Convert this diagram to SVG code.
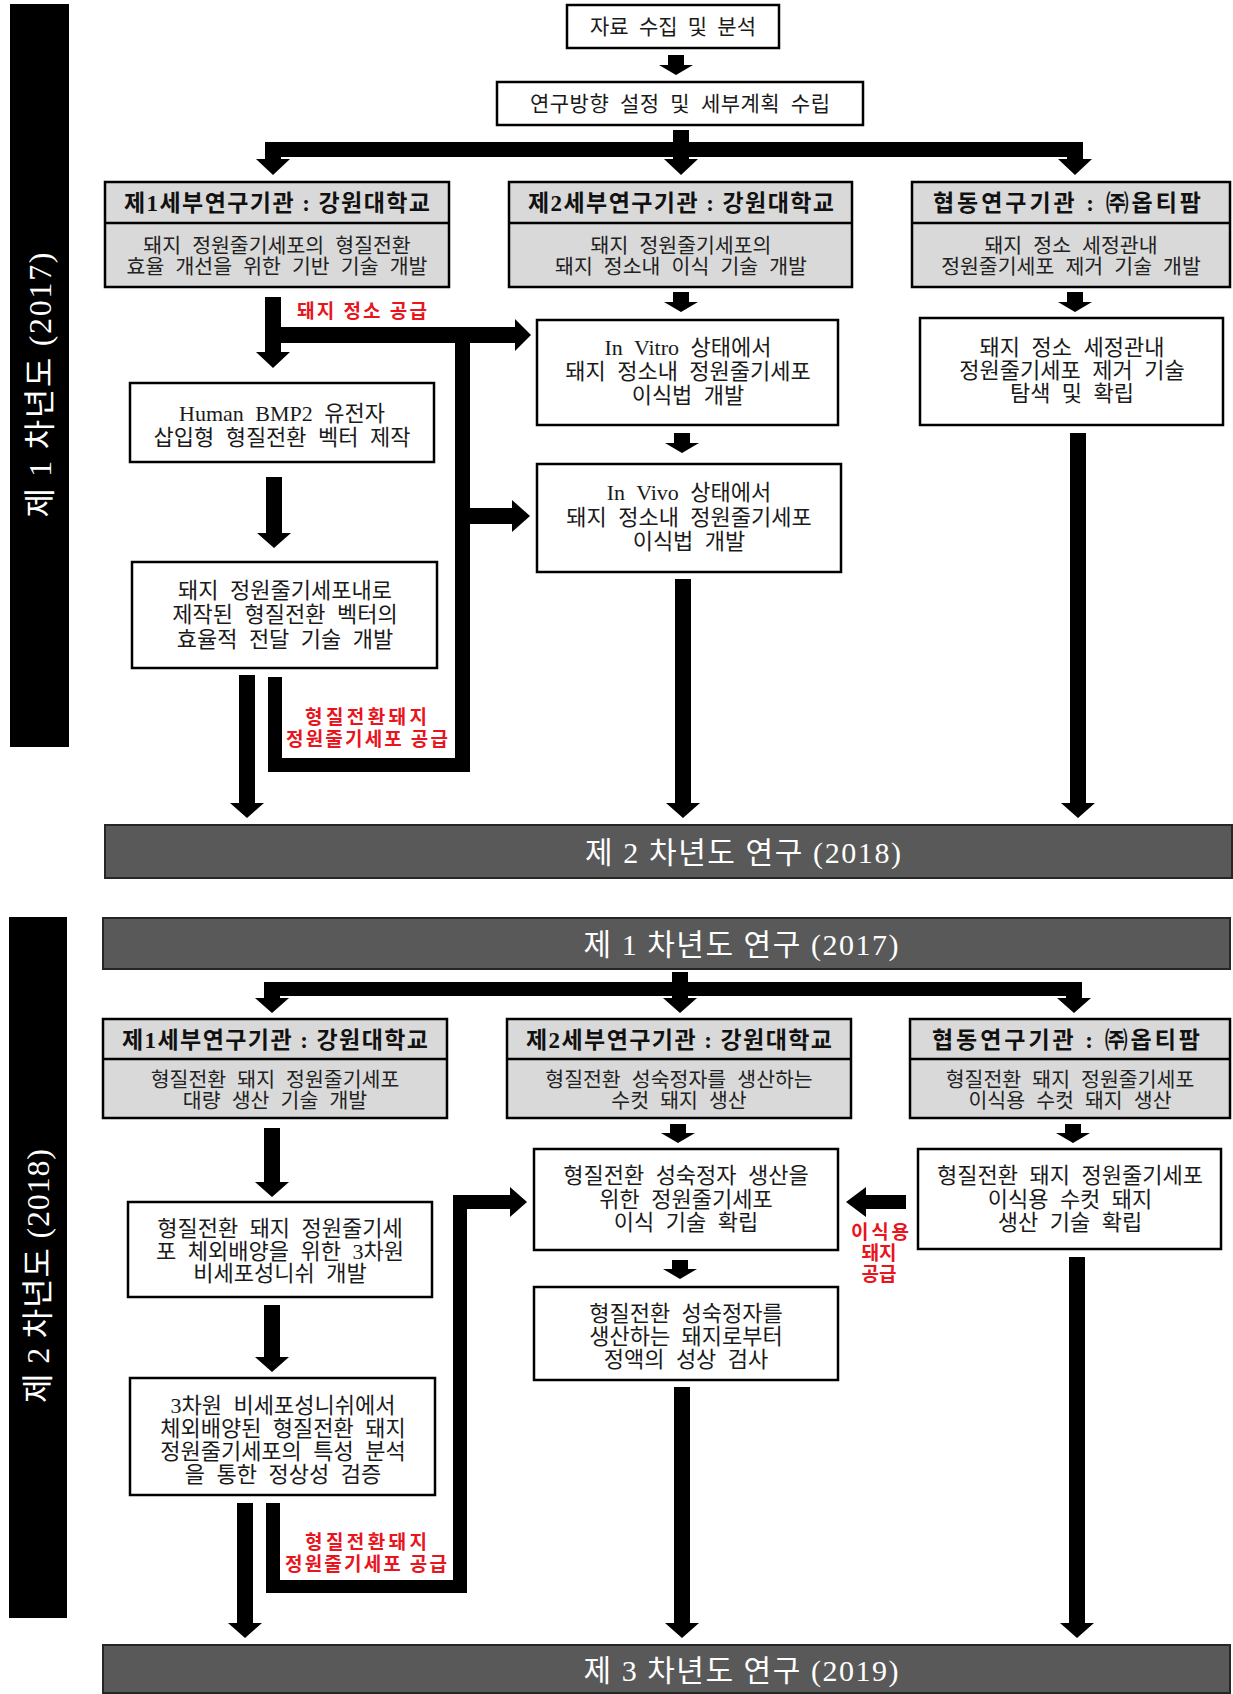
<svg xmlns="http://www.w3.org/2000/svg" width="1233" height="1694" viewBox="0 0 1233 1694">
<style>
text{font-family:"Liberation Serif","Noto Sans CJK KR",serif;text-anchor:middle;dominant-baseline:central;}
.box{fill:#fff;stroke:#000;stroke-width:2.5;}
.hdr{fill:#d9d9d9;stroke:#000;stroke-width:2.5;}
.div{stroke:#000;stroke-width:2.5;}
.bar{fill:#595959;stroke:#262626;stroke-width:2;}
.side{fill:#000;}
.t0{font-size:21px;word-spacing:5px;fill:#1a1a1a;}
.t{font-size:22px;word-spacing:6px;fill:#1a1a1a;}
.b{font-size:20.5px;word-spacing:6px;fill:#222;}
.h{font-size:23px;font-weight:bold;fill:#111;}
.r{font-size:19px;font-weight:bold;fill:#e8141e;}
.w{font-size:30px;fill:#fff;}
.sv{font-size:32px;fill:#fff;}
.k{fill:#000;}
</style>

<!-- side bars -->
<g id="side1"><rect class="side" x="10" y="4" width="59" height="743"/><text class="sv" transform="translate(40,385) rotate(-90)" textLength="265" lengthAdjust="spacing">제 1 차년도 (2017)</text></g>
<g id="side2"><rect class="side" x="9" y="917" width="58" height="701"/><text class="sv" transform="translate(38,1276) rotate(-90)" textLength="254" lengthAdjust="spacing">제 2 차년도 (2018)</text></g>

<!-- Section 1 nodes -->
<g id="n_collect"><rect class="box" x="567" y="5" width="212" height="43"/><text class="t0" x="673" y="27">자료 수집 및 분석</text></g>
<g id="n_plan"><rect class="box" x="497" y="82" width="366" height="43"/><text class="t0" x="680" y="104" textLength="300" lengthAdjust="spacing">연구방향 설정 및 세부계획 수립</text></g>

<g id="h1_left"><rect class="hdr" x="105" y="182" width="344" height="105"/><line class="div" x1="105" y1="223" x2="449" y2="223"/>
<text class="h" x="277" y="203" textLength="306" lengthAdjust="spacing">제1세부연구기관 : 강원대학교</text>
<text class="b" x="277" y="246">돼지 정원줄기세포의 형질전환</text><text class="b" x="277" y="267">효율 개선을 위한 기반 기술 개발</text></g>
<g id="h1_mid"><rect class="hdr" x="509" y="182" width="343" height="105"/><line class="div" x1="509" y1="223" x2="852" y2="223"/>
<text class="h" x="681" y="203" textLength="306" lengthAdjust="spacing">제2세부연구기관 : 강원대학교</text>
<text class="b" x="681" y="246">돼지 정원줄기세포의</text><text class="b" x="681" y="267">돼지 정소내 이식 기술 개발</text></g>
<g id="h1_right"><rect class="hdr" x="912" y="182" width="318" height="105"/><line class="div" x1="912" y1="223" x2="1230" y2="223"/>
<text class="h" x="1067" y="203" textLength="268" lengthAdjust="spacing">협동연구기관 : ㈜옵티팜</text>
<text class="b" x="1071" y="246">돼지 정소 세정관내</text><text class="b" x="1071" y="267">정원줄기세포 제거 기술 개발</text></g>

<g id="n_bmp2"><rect class="box" x="130" y="383" width="304" height="79"/><text class="t" x="282" y="413">Human BMP2 유전자</text><text class="t" x="282" y="437">삽입형 형질전환 벡터 제작</text></g>
<g id="n_deliver"><rect class="box" x="132" y="562" width="305" height="106"/><text class="t" x="285" y="590">돼지 정원줄기세포내로</text><text class="t" x="285" y="614">제작된 형질전환 벡터의</text><text class="t" x="285" y="639">효율적 전달 기술 개발</text></g>
<g id="n_vitro"><rect class="box" x="537" y="320" width="301" height="105"/><text class="t" x="688" y="347">In Vitro 상태에서</text><text class="t" x="688" y="371">돼지 정소내 정원줄기세포</text><text class="t" x="688" y="395">이식법 개발</text></g>
<g id="n_vivo"><rect class="box" x="537" y="464" width="304" height="108"/><text class="t" x="689" y="492">In Vivo 상태에서</text><text class="t" x="689" y="517">돼지 정소내 정원줄기세포</text><text class="t" x="689" y="541">이식법 개발</text></g>
<g id="n_remove"><rect class="box" x="920" y="318" width="303" height="107"/><text class="t" x="1072" y="347">돼지 정소 세정관내</text><text class="t" x="1072" y="370">정원줄기세포 제거 기술</text><text class="t" x="1072" y="393">탐색 및 확립</text></g>

<g id="bar_2018"><rect class="bar" x="105" y="825" width="1127" height="53"/><text class="w" x="743" y="852" textLength="316" lengthAdjust="spacing">제 2 차년도 연구 (2018)</text></g>

<!-- Section 2 nodes -->
<g id="bar_2017"><rect class="bar" x="103" y="918" width="1127" height="51"/><text class="w" x="741" y="944" textLength="315" lengthAdjust="spacing">제 1 차년도 연구 (2017)</text></g>

<g id="h2_left"><rect class="hdr" x="103" y="1019" width="344" height="99"/><line class="div" x1="103" y1="1059" x2="447" y2="1059"/>
<text class="h" x="275" y="1040" textLength="306" lengthAdjust="spacing">제1세부연구기관 : 강원대학교</text>
<text class="b" x="275" y="1080">형질전환 돼지 정원줄기세포</text><text class="b" x="275" y="1101">대량 생산 기술 개발</text></g>
<g id="h2_mid"><rect class="hdr" x="507" y="1019" width="344" height="99"/><line class="div" x1="507" y1="1059" x2="851" y2="1059"/>
<text class="h" x="679" y="1040" textLength="306" lengthAdjust="spacing">제2세부연구기관 : 강원대학교</text>
<text class="b" x="679" y="1080">형질전환 성숙정자를 생산하는</text><text class="b" x="679" y="1101">수컷 돼지 생산</text></g>
<g id="h2_right"><rect class="hdr" x="910" y="1019" width="320" height="99"/><line class="div" x1="910" y1="1059" x2="1230" y2="1059"/>
<text class="h" x="1066" y="1040" textLength="268" lengthAdjust="spacing">협동연구기관 : ㈜옵티팜</text>
<text class="b" x="1070" y="1080">형질전환 돼지 정원줄기세포</text><text class="b" x="1070" y="1101">이식용 수컷 돼지 생산</text></g>

<g id="n_niche"><rect class="box" x="128" y="1202" width="304" height="95"/><text class="t" x="280" y="1228">형질전환 돼지 정원줄기세</text><text class="t" x="280" y="1251">포 체외배양을 위한 3차원</text><text class="t" x="280" y="1273">비세포성니쉬 개발</text></g>
<g id="n_verify"><rect class="box" x="130" y="1378" width="305" height="117"/><text class="t" x="283" y="1405">3차원 비세포성니쉬에서</text><text class="t" x="283" y="1428">체외배양된 형질전환 돼지</text><text class="t" x="283" y="1451">정원줄기세포의 특성 분석</text><text class="t" x="283" y="1474">을 통한 정상성 검증</text></g>
<g id="n_transplant"><rect class="box" x="534" y="1149" width="304" height="101"/><text class="t" x="686" y="1175">형질전환 성숙정자 생산을</text><text class="t" x="686" y="1199">위한 정원줄기세포</text><text class="t" x="686" y="1222">이식 기술 확립</text></g>
<g id="n_semen"><rect class="box" x="534" y="1287" width="304" height="93"/><text class="t" x="686" y="1313">형질전환 성숙정자를</text><text class="t" x="686" y="1336">생산하는 돼지로부터</text><text class="t" x="686" y="1359">정액의 성상 검사</text></g>
<g id="n_boar"><rect class="box" x="918" y="1149" width="303" height="100"/><text class="t" x="1070" y="1175">형질전환 돼지 정원줄기세포</text><text class="t" x="1070" y="1199">이식용 수컷 돼지</text><text class="t" x="1070" y="1222">생산 기술 확립</text></g>

<g id="bar_2019"><rect class="bar" x="103" y="1645" width="1127" height="48"/><text class="w" x="741" y="1670" textLength="315" lengthAdjust="spacing">제 3 차년도 연구 (2019)</text></g>

<!-- connectors -->
<g id="connectors" class="k">
<polygon points="668,55 684,55 684,65 693,65 676,75 659,65 668,65"/>
<rect x="265" y="142" width="818" height="15"/>
<polygon points="265,142 281,142 281,159 290,159 273,175 256,159 265,159"/>
<polygon points="673,130 689,130 689,159 698,159 681,175 664,159 673,159"/>
<polygon points="1067,142 1083,142 1083,159 1092,159 1075,175 1058,159 1067,159"/>

<polygon points="265,297 281,297 281,352 290,352 273,368 256,352 265,352"/>
<rect x="281" y="327" width="234" height="16"/>
<polygon points="515,319 531,335 515,351"/>
<rect x="455" y="327" width="15" height="445"/>
<rect x="470" y="508" width="42" height="16"/>
<polygon points="512,500 530,516 512,532"/>
<rect x="268" y="677" width="14" height="95"/>
<rect x="268" y="758" width="202" height="14"/>
<polygon points="266,477 282,477 282,533 291,533 274,548 257,533 266,533"/>
<polygon points="239,675 255,675 255,803 264,803 247,818 230,803 239,803"/>

<polygon points="673,292 689,292 689,302 698,302 681,312 664,302 673,302"/>
<polygon points="674,433 690,433 690,443 699,443 682,453 665,443 674,443"/>
<polygon points="675,579 691,579 691,803 700,803 683,818 666,803 675,803"/>
<polygon points="1067,292 1083,292 1083,302 1092,302 1075,312 1058,302 1067,302"/>
<polygon points="1070,433 1086,433 1086,803 1095,803 1078,818 1061,803 1070,803"/>

<rect x="264" y="982" width="818" height="14"/>
<polygon points="264,982 280,982 280,998 289,998 272,1013 255,998 264,998"/>
<polygon points="672,972 688,972 688,998 697,998 680,1013 663,998 672,998"/>
<polygon points="1066,982 1082,982 1082,998 1091,998 1074,1013 1057,998 1066,998"/>

<polygon points="264,1128 280,1128 280,1182 289,1182 272,1197 255,1182 264,1182"/>
<polygon points="264,1305 280,1305 280,1357 289,1357 272,1372 255,1357 264,1357"/>
<polygon points="237,1503 253,1503 253,1623 262,1623 245,1638 228,1623 237,1623"/>
<rect x="266" y="1503" width="14" height="90"/>
<rect x="266" y="1580" width="201" height="13"/>
<rect x="453" y="1195" width="14" height="398"/>
<rect x="467" y="1195" width="43" height="14"/>
<polygon points="510,1187 527,1202 510,1217"/>

<polygon points="670,1124 686,1124 686,1133 695,1133 678,1143 661,1133 670,1133"/>
<polygon points="672,1260 688,1260 688,1269 697,1269 680,1279 663,1269 672,1269"/>
<polygon points="674,1387 690,1387 690,1623 699,1623 682,1638 665,1623 674,1623"/>
<polygon points="1065,1124 1081,1124 1081,1133 1090,1133 1073,1143 1056,1133 1065,1133"/>
<polygon points="906,1195 906,1209 866,1209 866,1217 846,1202 866,1187 866,1195"/>
<polygon points="1069,1257 1085,1257 1085,1623 1094,1623 1077,1638 1060,1623 1069,1623"/>
</g>

<!-- connector labels -->
<g id="labels">
<text class="r" x="362" y="311" textLength="130" lengthAdjust="spacing">돼지 정소 공급</text>
<text class="r" x="366" y="717" textLength="122" lengthAdjust="spacing">형질전환돼지</text>
<text class="r" x="367" y="739" textLength="162" lengthAdjust="spacing">정원줄기세포 공급</text>
<text class="r" x="366" y="1542" textLength="122" lengthAdjust="spacing">형질전환돼지</text>
<text class="r" x="366" y="1564" textLength="162" lengthAdjust="spacing">정원줄기세포 공급</text>
<text class="r" x="880" y="1232" textLength="58" lengthAdjust="spacing">이식용</text>
<text class="r" x="879" y="1253">돼지</text>
<text class="r" x="879" y="1274">공급</text>
</g>
</svg>
